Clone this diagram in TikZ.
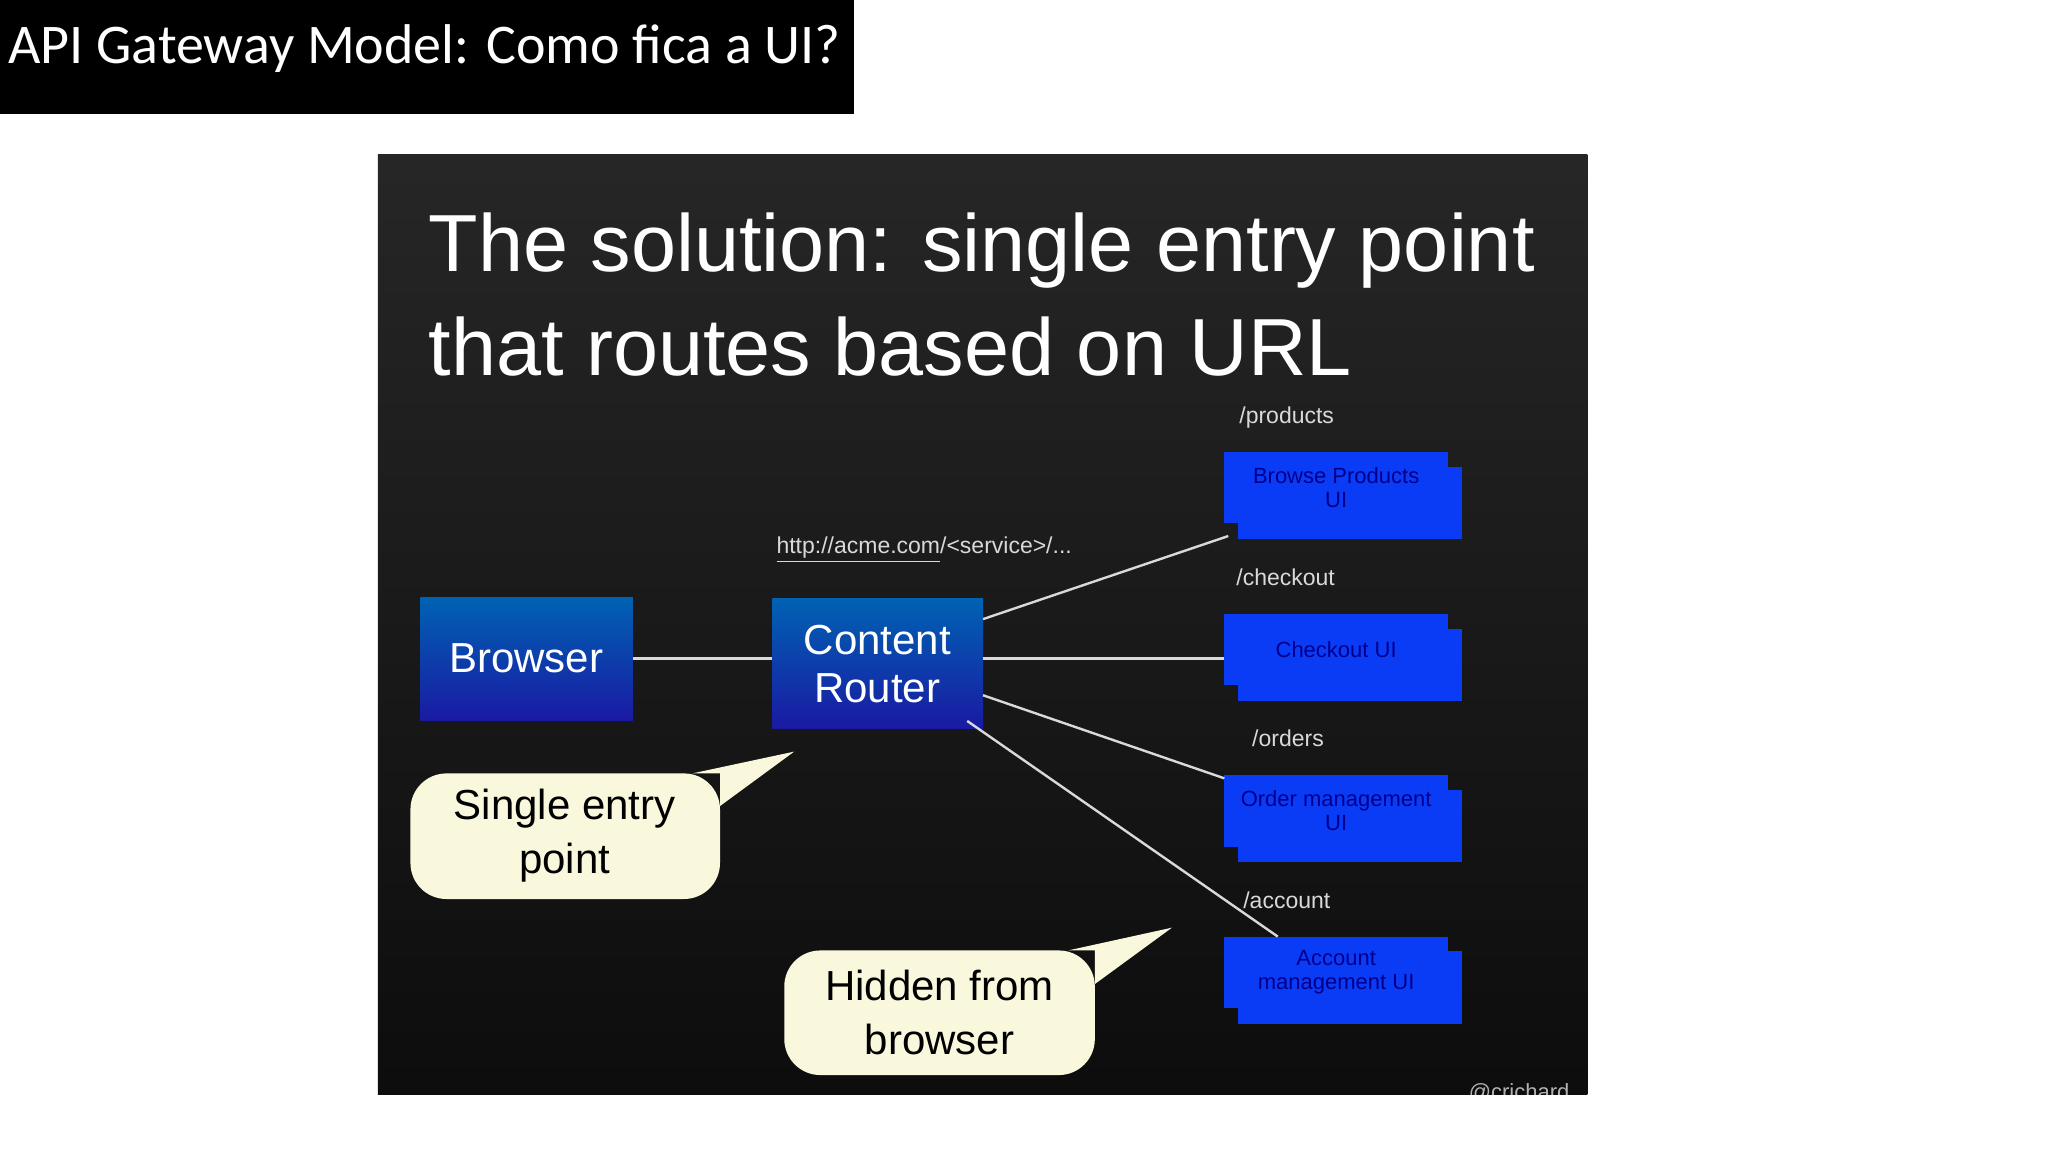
\documentclass[tikz,border=0pt]{standalone}
\usepackage{fontspec}
\setmainfont{Liberation Sans}
\newfontfamily\calib{Carlito}
\begin{document}
\begin{tikzpicture}[x=0.5pt,y=-0.5pt,
  bluebox/.style={draw=none,top color=blue!45!cyan!70!black,bottom color=blue!60!black!90},
  uitext/.style={text=blue!55!black,font=\fontsize{11}{12}\selectfont,align=center},
  lbl/.style={text=white!85!black,font=\fontsize{11.5}{13}\selectfont,anchor=base west},
  link/.style={draw=white!85!black,line width=1.2pt},
  callout/.style={fill=yellow!12!white!95!gray,draw=none}]
\definecolor{ublue}{HTML}{0A3CF5}
\useasboundingbox (0,0) rectangle (2048,1152);
\fill[white] (0,0) rectangle (2048,1152);
\begin{scope}[scale=0.989]
% title bar
\fill[black] (0,0) rectangle (863,115);
\node[anchor=base west,text=white,font=\calib\fontsize{28}{30}\selectfont,inner sep=0] (ttl) at (8,64) {API Gateway Model: Como fica a UI?};
% panel
\shade[top color=black!85, bottom color=black!95] (382,156) rectangle (1605,1107);
\node[anchor=base west,text=white,font=\fontsize{40.5}{50}\selectfont,inner sep=0] (h1) at (433,275) {The solution: single entry point};
\node[anchor=base west,text=white,font=\fontsize{40.5}{50}\selectfont,inner sep=0] (h2) at (433,380) {that routes based on URL};
% main boxes
\path[bluebox] (425,604) rectangle (640,729);
\node[text=white,font=\fontsize{21}{25}\selectfont] (br) at (532,666) {Browser};
\path[bluebox] (781,605) rectangle (994,737);
\node[text=white,font=\fontsize{21}{25}\selectfont,align=center] (cr) at (887,671) {Content\\[-1pt]Router};
\coordinate (brE) at (640,666); \coordinate (crW) at (781,666);
% UI boxes
\foreach \y/\n/\t in {457/p/{Browse Products\\UI},621/c/{Checkout UI},784/o/{Order management\\UI},947/a/{Account\\management UI}}{
  \fill[ublue] (1252,\y+15) rectangle (1478,\y+88);
  \fill[ublue] (1238,\y) rectangle (1464,\y+72);
  \node[uitext] (\n) at (1351,\y+36) {\t};
}
\node[lbl] (lp) at (1246,428) {/products};
\node[lbl] (lc) at (1243,592) {/checkout};
\node[lbl] (lo) at (1259,755) {/orders};
\node[lbl] (la) at (1250,919) {/account};
\node[lbl,anchor=base west] (url) at (778,560) {\underline{http://acme.com}/<service>/...};
% connectors
\coordinate (r1) at (994,626); \coordinate (p1) at (1242,542);
\coordinate (r2) at (994,666); \coordinate (c1) at (1238,666);
\coordinate (r3) at (994,703); \coordinate (o1) at (1238,787);
\coordinate (r4) at (978,729); \coordinate (a1) at (1292,947);
\draw[link] (brE) -- (crW);
\draw[link] (r1) -- (p1);
\draw[link] (r2) -- (c1);
\draw[link] (r3) -- (o1);
\draw[link] (r4) -- (a1);
% callouts
\coordinate (t1) at (803,760);
\path[callout,rounded corners=18] (415,782) rectangle (728,909);
\path[callout] (700,782) -- (t1) -- (728,815) -- (728,782) -- cycle;
\node[font=\fontsize{21}{27}\selectfont,align=center] (s1) at (571,845) {Single entry\\point};
\coordinate (t2) at (1185,938);
\path[callout,rounded corners=18] (793,961) rectangle (1107,1087);
\path[callout] (1080,961) -- (t2) -- (1107,995) -- (1107,961) -- cycle;
\node[font=\fontsize{21}{27}\selectfont,align=center] (s2) at (950,1024) {Hidden from\\browser};
\begin{scope}
\clip (382,156) rectangle (1605,1107);
\node[anchor=base west,text=white!70!black,font=\fontsize{11}{12}\selectfont] (cred) at (1478,1112) {@crichard};
\end{scope}
\end{scope}
\end{tikzpicture}
\end{document}
